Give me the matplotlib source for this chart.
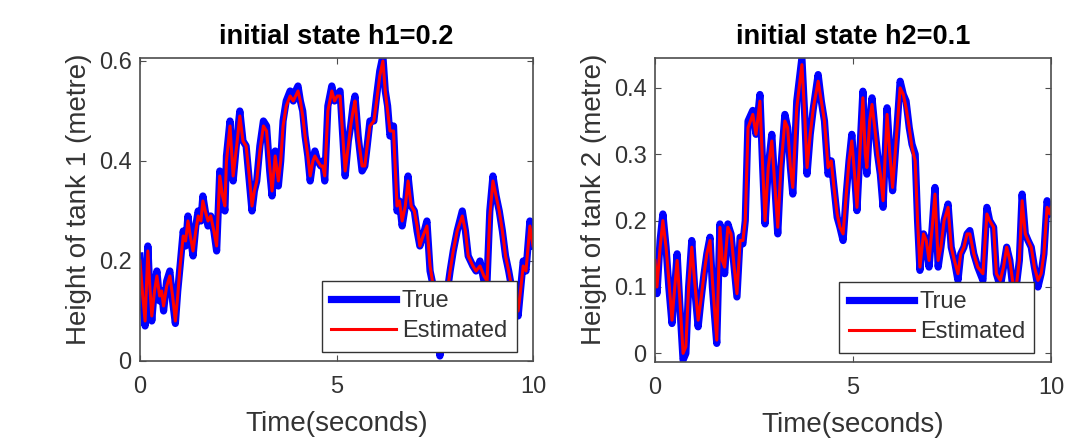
#!/usr/bin/env python
# two-tank height estimation, true vs estimated

import numpy as np
import matplotlib as mpl
mpl.use('Agg')
import matplotlib.pyplot as plt
from matplotlib import font_manager

# data
t1 = [0.00, 0.07, 0.13, 0.20, 0.25, 0.30, 0.37, 0.43, 0.50, 0.55, 0.60, 0.68, 0.76, 0.83, 0.90, 0.96,
      1.02, 1.10, 1.16, 1.22, 1.28, 1.35, 1.42, 1.48, 1.55, 1.60, 1.66, 1.73, 1.80, 1.88, 1.95,
      2.03, 2.10, 2.16, 2.20, 2.29, 2.37, 2.46, 2.54, 2.62, 2.70, 2.78, 2.85, 2.91, 2.97,
      3.05, 3.14, 3.22, 3.30, 3.36, 3.44, 3.52, 3.58, 3.64, 3.72, 3.82, 3.90, 3.96,
      4.02, 4.08, 4.14, 4.20, 4.27, 4.33, 4.40, 4.45, 4.52, 4.60, 4.65, 4.70, 4.78, 4.88, 4.95,
      5.02, 5.09, 5.15, 5.22, 5.30, 5.36, 5.42, 5.47, 5.55, 5.65, 5.72, 5.78, 5.85, 5.95,
      6.02, 6.10, 6.18, 6.24, 6.30, 6.36, 6.45, 6.54, 6.60, 6.67, 6.75, 6.82, 6.90, 6.98,
      7.05, 7.12, 7.20, 7.30, 7.38, 7.46, 7.55, 7.63, 7.70, 7.76, 7.82, 7.89, 7.97,
      8.07, 8.20, 8.28, 8.35, 8.47, 8.55, 8.65, 8.75, 8.83, 8.90, 8.98,
      9.06, 9.14, 9.22, 9.30, 9.38, 9.47, 9.55, 9.62, 9.68, 9.75, 9.82, 9.92, 10.0]
h1_true = [0.21, 0.12, 0.07, 0.23, 0.14, 0.08, 0.15, 0.18, 0.12, 0.14, 0.10, 0.16, 0.18, 0.12, 0.075, 0.14,
           0.19, 0.26, 0.23, 0.29, 0.25, 0.21, 0.27, 0.30, 0.28, 0.33, 0.30, 0.27, 0.29, 0.26, 0.22,
           0.38, 0.33, 0.30, 0.41, 0.48, 0.36, 0.44, 0.50, 0.44, 0.43, 0.36, 0.30, 0.34, 0.36,
           0.43, 0.48, 0.47, 0.38, 0.33, 0.42, 0.35, 0.40, 0.48, 0.52, 0.54, 0.52, 0.54,
           0.55, 0.52, 0.50, 0.45, 0.41, 0.36, 0.40, 0.42, 0.40, 0.39, 0.40, 0.36, 0.51, 0.55, 0.52,
           0.53, 0.54, 0.46, 0.37, 0.44, 0.47, 0.51, 0.53, 0.45, 0.38, 0.39, 0.43, 0.48, 0.48,
           0.53, 0.58, 0.61, 0.54, 0.51, 0.45, 0.47, 0.30, 0.32, 0.27, 0.31, 0.37, 0.31, 0.30,
           0.26, 0.23, 0.25, 0.28, 0.18, 0.15, 0.08, 0.01, 0.06, 0.10, 0.14, 0.18, 0.22,
           0.26, 0.30, 0.26, 0.21, 0.19, 0.18, 0.20, 0.16, 0.16, 0.30, 0.37,
           0.33, 0.30, 0.26, 0.21, 0.18, 0.14, 0.12, 0.09, 0.14, 0.20, 0.18, 0.28, 0.23]
h1_est = [0.20, 0.13, 0.08, 0.22, 0.15, 0.09, 0.14, 0.17, 0.13, 0.14, 0.11, 0.15, 0.17, 0.13, 0.08, 0.13,
          0.19, 0.25, 0.24, 0.28, 0.25, 0.22, 0.26, 0.29, 0.28, 0.32, 0.30, 0.28, 0.29, 0.26, 0.23,
          0.37, 0.33, 0.31, 0.40, 0.47, 0.37, 0.43, 0.49, 0.44, 0.43, 0.37, 0.31, 0.34, 0.36,
          0.42, 0.47, 0.46, 0.39, 0.34, 0.41, 0.36, 0.40, 0.47, 0.51, 0.53, 0.52, 0.53,
          0.54, 0.52, 0.49, 0.45, 0.41, 0.37, 0.40, 0.41, 0.40, 0.39, 0.39, 0.37, 0.50, 0.54, 0.52,
          0.53, 0.53, 0.46, 0.38, 0.43, 0.47, 0.50, 0.52, 0.45, 0.39, 0.39, 0.43, 0.47, 0.48,
          0.52, 0.57, 0.60, 0.54, 0.50, 0.46, 0.46, 0.31, 0.32, 0.28, 0.31, 0.36, 0.31, 0.30,
          0.27, 0.23, 0.25, 0.27, 0.19, 0.15, 0.09, 0.02, 0.06, 0.10, 0.14, 0.18, 0.22,
          0.26, 0.29, 0.26, 0.21, 0.19, 0.18, 0.19, 0.17, 0.16, 0.29, 0.36,
          0.33, 0.30, 0.26, 0.21, 0.18, 0.14, 0.12, 0.10, 0.14, 0.19, 0.18, 0.27, 0.23]

t2 = [0.00, 0.05, 0.13, 0.20, 0.28, 0.35, 0.43, 0.50, 0.56, 0.63, 0.71, 0.78, 0.85, 0.93,
      1.00, 1.09, 1.16, 1.24, 1.31, 1.39, 1.45, 1.50, 1.56, 1.64, 1.70, 1.76, 1.84, 1.92,
      2.00, 2.07, 2.15, 2.22, 2.28, 2.35, 2.47, 2.55, 2.65, 2.72, 2.78, 2.86, 2.95,
      3.02, 3.10, 3.18, 3.28, 3.35, 3.42, 3.48, 3.58, 3.66, 3.71, 3.78, 3.84, 3.92,
      4.00, 4.12, 4.20, 4.28, 4.37, 4.45, 4.52, 4.60, 4.67, 4.75, 4.83, 4.90, 4.97,
      5.04, 5.10, 5.18, 5.25, 5.31, 5.35, 5.42, 5.48, 5.55, 5.62, 5.69, 5.76, 5.86, 5.93,
      6.00, 6.10, 6.19, 6.27, 6.34, 6.42, 6.49, 6.57, 6.63, 6.69, 6.78, 6.85, 6.92,
      7.00, 7.07, 7.15, 7.22, 7.30, 7.40, 7.48, 7.56, 7.65, 7.72, 7.80, 7.88, 7.95,
      8.05, 8.15, 8.28, 8.38, 8.45, 8.55, 8.62, 8.72, 8.80, 8.88, 8.96,
      9.05, 9.12, 9.20, 9.27, 9.35, 9.42, 9.50, 9.58, 9.67, 9.75, 9.82, 9.90, 9.97, 10.0]
h2_true = [0.13, 0.09, 0.17, 0.21, 0.16, 0.10, 0.045, 0.10, 0.15, 0.07, -0.01, 0.00, 0.10, 0.17,
           0.10, 0.04, 0.08, 0.12, 0.15, 0.175, 0.10, 0.06, 0.015, 0.195, 0.14, 0.12, 0.195, 0.18,
           0.13, 0.085, 0.175, 0.165, 0.20, 0.35, 0.366, 0.33, 0.39, 0.28, 0.195, 0.28, 0.33,
           0.26, 0.18, 0.28, 0.36, 0.34, 0.28, 0.24, 0.38, 0.42, 0.445, 0.36, 0.27, 0.33,
           0.37, 0.42, 0.38, 0.35, 0.27, 0.29, 0.25, 0.205, 0.19, 0.17, 0.24, 0.29, 0.33,
           0.27, 0.215, 0.31, 0.395, 0.30, 0.27, 0.35, 0.385, 0.34, 0.30, 0.27, 0.22, 0.37, 0.30,
           0.245, 0.33, 0.41, 0.39, 0.38, 0.34, 0.315, 0.30, 0.20, 0.125, 0.18, 0.17, 0.13,
           0.19, 0.25, 0.13, 0.16, 0.20, 0.225, 0.16, 0.14, 0.11, 0.15, 0.16, 0.18, 0.185,
           0.15, 0.13, 0.11, 0.22, 0.20, 0.19, 0.12, 0.10, 0.13, 0.16, 0.14,
           0.09, 0.10, 0.14, 0.24, 0.18, 0.17, 0.16, 0.13, 0.10, 0.12, 0.15, 0.23, 0.21, 0.22]
h2_est = [0.14, 0.10, 0.16, 0.20, 0.16, 0.11, 0.05, 0.10, 0.14, 0.08, 0.00, 0.01, 0.10, 0.16,
          0.11, 0.05, 0.08, 0.12, 0.15, 0.17, 0.11, 0.07, 0.02, 0.19, 0.14, 0.13, 0.19, 0.18,
          0.13, 0.09, 0.17, 0.17, 0.20, 0.34, 0.36, 0.33, 0.38, 0.28, 0.20, 0.28, 0.32,
          0.26, 0.19, 0.28, 0.35, 0.34, 0.28, 0.25, 0.37, 0.41, 0.435, 0.36, 0.28, 0.33,
          0.37, 0.41, 0.38, 0.35, 0.28, 0.29, 0.25, 0.21, 0.19, 0.18, 0.24, 0.29, 0.32,
          0.27, 0.22, 0.31, 0.385, 0.30, 0.28, 0.35, 0.375, 0.34, 0.30, 0.27, 0.23, 0.36, 0.30,
          0.25, 0.33, 0.40, 0.39, 0.37, 0.34, 0.31, 0.29, 0.20, 0.13, 0.18, 0.17, 0.14,
          0.19, 0.24, 0.14, 0.16, 0.20, 0.22, 0.16, 0.14, 0.12, 0.15, 0.16, 0.18, 0.18,
          0.15, 0.13, 0.12, 0.21, 0.20, 0.19, 0.12, 0.11, 0.13, 0.16, 0.14,
          0.10, 0.10, 0.14, 0.23, 0.18, 0.17, 0.16, 0.13, 0.11, 0.12, 0.15, 0.22, 0.21, 0.22]

titles = ['initial state h1=0.2', 'initial state h2=0.1']
ylabels = ['Height of tank 1 (metre)', 'Height of tank 2 (metre)']
xlabel = 'Time(seconds)'
xticks = [0, 5, 10]
yticks1 = [0, 0.2, 0.4, 0.6]
yticks2 = [0, 0.1, 0.2, 0.3, 0.4]

# fonts: narrow face for the axis text if it is there
names = set(f.name for f in font_manager.fontManager.ttflist)
narrow = 'Liberation Sans Narrow' if 'Liberation Sans Narrow' in names else 'Liberation Sans'
plt.rcParams['font.family'] = [narrow, 'DejaVu Sans']

fig = plt.figure(figsize=(10.76, 4.42), dpi=100)
ax1 = fig.add_axes([0.1301, 0.1833, 0.3653, 0.6855])
ax2 = fig.add_axes([0.6087, 0.1810, 0.3681, 0.6878])

panels = [(ax1, t1, h1_true, h1_est, (0, 0.606), yticks1, ['0', '0.2', '0.4', '0.6']),
          (ax2, t2, h2_true, h2_est, (-0.013, 0.445), yticks2, ['0', '0.1', '0.2', '0.3', '0.4'])]

axcol = '#4d4d4d'
txtcol = '#333333'
for i, (ax, t, ht, he, ylim, yt, ytl) in enumerate(panels):
    ax.plot(t, ht, color='#0000ff', lw=5.2, solid_joinstyle='round', label='True')
    ax.plot(t, he, color='#ff0000', lw=2.2, label='Estimated')
    ax.set_xlim(0, 10)
    ax.set_ylim(*ylim)
    ax.set_xticks(xticks)
    ax.set_yticks(yt)
    ax.set_yticklabels(ytl)
    ax.tick_params(direction='in', top=True, right=True, length=4, width=0.8,
                   colors=axcol, labelcolor=txtcol, labelsize=17)
    ax.tick_params(axis='x', pad=11)
    ax.tick_params(axis='y', pad=6)
    for sp in ax.spines.values():
        sp.set_color(axcol)
        sp.set_linewidth(1.2)
    ax.set_title(titles[i], fontsize=19.5, fontweight='bold', family='Liberation Sans', pad=10)
    ax.set_xlabel(xlabel, fontsize=20, color=txtcol, labelpad=9)
    ax.set_ylabel(ylabels[i], fontsize=20, color=txtcol, labelpad=5)
    ax.yaxis.label.set_y(0.535)
    leg = ax.legend(loc='lower right', bbox_to_anchor=(0.958, 0.03), fontsize=17,
                    frameon=True, fancybox=False, framealpha=1, edgecolor=txtcol,
                    handlelength=2.75, borderpad=0.4, labelspacing=0.35, handletextpad=0.25,
                    borderaxespad=0)
    leg.get_frame().set_linewidth(1.0)
    for txt in leg.get_texts():
        txt.set_color(txtcol)

fig.savefig('out.png', dpi=100)
